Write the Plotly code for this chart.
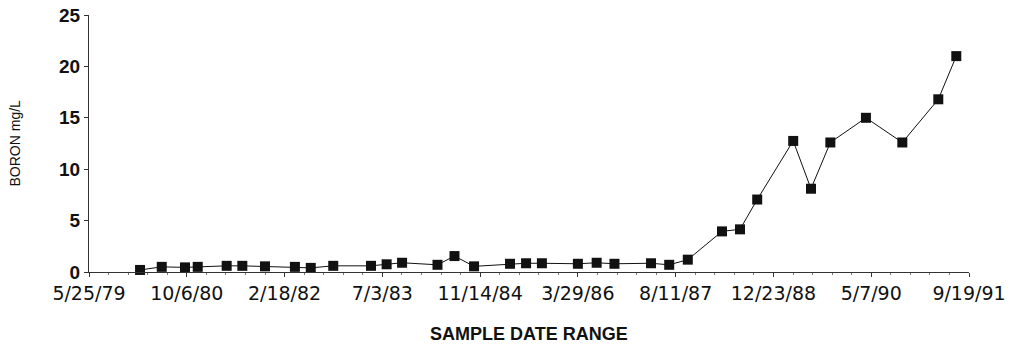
import plotly.graph_objects as go

# Sample dates and boron concentrations.
sample_dates = [
    "1980-02-10", "1980-05-31", "1980-09-27", "1980-12-01", "1981-04-28",
    "1981-07-17", "1981-11-10", "1982-04-12", "1982-07-02", "1982-10-25",
    "1983-05-06", "1983-07-25", "1983-10-12", "1984-04-10", "1984-07-06",
    "1984-10-14", "1985-04-16", "1985-07-07", "1985-09-26", "1986-03-29",
    "1986-07-03", "1986-10-02", "1987-04-07", "1987-07-09", "1987-10-12",
    "1988-04-04", "1988-07-05", "1988-10-01", "1989-04-03", "1989-07-03",
    "1989-10-10", "1990-04-10", "1990-10-13", "1991-04-15", "1991-07-16",
]
boron_mg_l = [
    0.2, 0.5, 0.45, 0.5, 0.6,
    0.6, 0.55, 0.5, 0.4, 0.6,
    0.6, 0.75, 0.9, 0.7, 1.55,
    0.55, 0.8, 0.85, 0.85, 0.8,
    0.9, 0.8, 0.85, 0.7, 1.2,
    3.95, 4.15, 7.05, 12.75, 8.1,
    12.6, 15.0, 12.6, 16.8, 21.0,
]

# Axis ticks every 500 days, as on the original date axis.
tick_dates = [
    "1979-05-25", "1980-10-06", "1982-02-18", "1983-07-03", "1984-11-14",
    "1986-03-29", "1987-08-11", "1988-12-23", "1990-05-07", "1991-09-19",
]
tick_labels = [
    "5/25/79", "10/6/80", "2/18/82", "7/3/83", "11/14/84",
    "3/29/86", "8/11/87", "12/23/88", "5/7/90", "9/19/91",
]
y_ticks = [0, 5, 10, 15, 20, 25]

INK = "#111111"
AXIS = "#333333"
ARIAL = "Liberation Sans, Arial, sans-serif"

PLOT_W, PLOT_H = 880, 257

fig = go.Figure(go.Scatter(
    x=sample_dates,
    y=boron_mg_l,
    mode="lines+markers",
    line={"color": INK, "width": 1},
    marker={"symbol": "square", "size": 10, "color": INK},
    showlegend=False,
    cliponaxis=False,
))

fig.update_layout(
    width=1018, height=347,
    margin={"l": 89, "r": 49, "t": 15, "b": 75},
    paper_bgcolor="white", plot_bgcolor="white",
    font={"family": "DejaVu Sans, sans-serif", "color": INK},
    xaxis={
        "type": "date",
        "range": [tick_dates[0], tick_dates[-1]],
        "tickvals": tick_dates,
        "ticktext": tick_labels,
        "tickfont": {"size": 19},
        "ticks": "outside", "ticklen": 4, "tickcolor": AXIS,
        "minor": {"dtick": 100 * 86400000, "tick0": tick_dates[0],
                  "ticks": "outside", "ticklen": 2, "tickcolor": "#777777"},
        "showline": True, "linecolor": AXIS, "linewidth": 1,
        "showgrid": False, "zeroline": False,
        "automargin": False,
    },
    yaxis={
        "range": [0, 25],
        "tickvals": y_ticks,
        "tickfont": {"size": 19, "family": ARIAL, "weight": "bold"},
        "ticks": "outside", "ticklen": 4, "tickcolor": AXIS,
        "showline": True, "linecolor": AXIS, "linewidth": 1,
        "showgrid": False, "zeroline": False,
        "automargin": False,
    },
    annotations=[
        {"text": "<b>SAMPLE DATE RANGE</b>", "xref": "paper", "yref": "paper",
         "x": 0.5, "y": -62 / PLOT_H, "xanchor": "center", "yanchor": "middle",
         "showarrow": False, "font": {"size": 18, "family": ARIAL}},
        {"text": "BORON mg/L", "xref": "paper", "yref": "paper",
         "x": -75 / PLOT_W, "y": 0.5, "xanchor": "center", "yanchor": "middle",
         "textangle": -90, "showarrow": False,
         "font": {"size": 14, "family": ARIAL}},
    ],
)

# Drop the page's default body margin so the figure fills the window.
fig.write_html("out.html", config={"displayModeBar": False},
               post_script="document.body.style.margin = '0';")
